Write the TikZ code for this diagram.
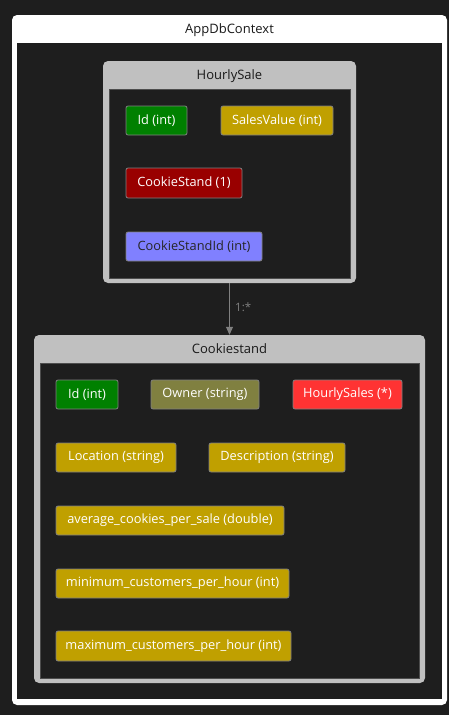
\documentclass[tikz,border=0pt]{standalone}
\usepackage{fontspec}
\setmainfont{Open Sans}
\usetikzlibrary{arrows.meta}
\definecolor{bg}{HTML}{1E1E1E}
\definecolor{grp}{HTML}{C0C0C0}
\definecolor{fgreen}{HTML}{008000}
\definecolor{fgold}{HTML}{C0A000}
\definecolor{fdred}{HTML}{990000}
\definecolor{fblue}{HTML}{8080FF}
\definecolor{folive}{HTML}{808040}
\definecolor{fred}{HTML}{FF3333}
\definecolor{edgegray}{HTML}{808080}
\tikzset{
  field/.style={draw=edgegray, line width=0.8pt, rounded corners=2pt, inner sep=0pt,
    text=white, font=\fontsize{12.8}{15}\selectfont},
  outerbox/.style={fill=white, rounded corners=5pt, inner sep=0pt},
  groupbox/.style={fill=grp, rounded corners=5pt, inner sep=0pt},
  innerbox/.style={fill=bg, draw=black!60!grp, line width=0.8pt, inner sep=0pt},
  title/.style={font=\fontsize{13}{15}\selectfont, text=black!90},
}
\begin{document}
\begin{tikzpicture}[x=1pt,y=-1pt]
\useasboundingbox (0,0) rectangle (449,715);
\fill[bg] (0,0) rectangle (449,715);
% outer container
\node[outerbox, minimum width=435pt, minimum height=690pt] (app) at (229.5,360) {};
\node[title] (apptitle) at (229.5,30) {AppDbContext};
\node[innerbox, draw=none, minimum width=425pt, minimum height=656pt] (appin) at (229.5,371) {};
% HourlySale
\node[groupbox, minimum width=253pt, minimum height=222pt] (hs) at (229.5,172) {};
\node[title] (hstitle) at (229.5,76) {HourlySale};
\node[innerbox, minimum width=241pt, minimum height=189pt] (hsin) at (229.5,183.5) {};
\node[field, fill=fgreen, minimum width=61pt, minimum height=29pt] (hsid) at (156.5,120.5) {Id (int)};
\node[field, fill=fgold, minimum width=112pt, minimum height=29pt] (hsval) at (277,120.5) {SalesValue (int)};
\node[field, fill=fdred, minimum width=116pt, minimum height=30pt] (hscs) at (184,183) {CookieStand (1)};
\node[field, fill=fblue, text=black!85, minimum width=136pt, minimum height=29pt] (hscsid) at (194,246.5) {CookieStandId (int)};
% Cookiestand
\node[groupbox, minimum width=391pt, minimum height=348pt] (cs) at (229.5,509) {};
\node[title] (cstitle) at (229.5,349) {Cookiestand};
\node[innerbox, minimum width=379pt, minimum height=315pt] (csin) at (229.5,520.5) {};
\node[field, fill=fgreen, minimum width=62pt, minimum height=29pt] (csid) at (87,394.5) {Id (int)};
\node[field, fill=folive, minimum width=108pt, minimum height=29pt] (csown) at (205,394.5) {Owner (string)};
\node[field, fill=fred, minimum width=109pt, minimum height=29pt] (cshs) at (347.5,394.5) {HourlySales (*)};
\node[field, fill=fgold, minimum width=120pt, minimum height=29pt] (csloc) at (116,457.5) {Location (string)};
\node[field, fill=fgold, minimum width=136pt, minimum height=29pt] (csdesc) at (277,457.5) {Description (string)};
\node[field, fill=fgold, minimum width=228pt, minimum height=29pt] (csavg) at (170,520.5) {average\_cookies\_per\_sale (double)};
\node[field, fill=fgold, minimum width=233pt, minimum height=29pt] (csmin) at (172.5,583.5) {minimum\_customers\_per\_hour (int)};
\node[field, fill=fgold, minimum width=235pt, minimum height=30pt] (csmax) at (173.5,646) {maximum\_customers\_per\_hour (int)};
% relation
\draw[edgegray, line width=0.8pt, -{Triangle[width=7pt,length=8pt]}] (hs.south) -- (cs.north)
  node[midway, right, xshift=2pt, yshift=2pt, text=edgegray, font=\fontsize{11.5}{13}\selectfont] (rel) {1:*};
\end{tikzpicture}
\end{document}
